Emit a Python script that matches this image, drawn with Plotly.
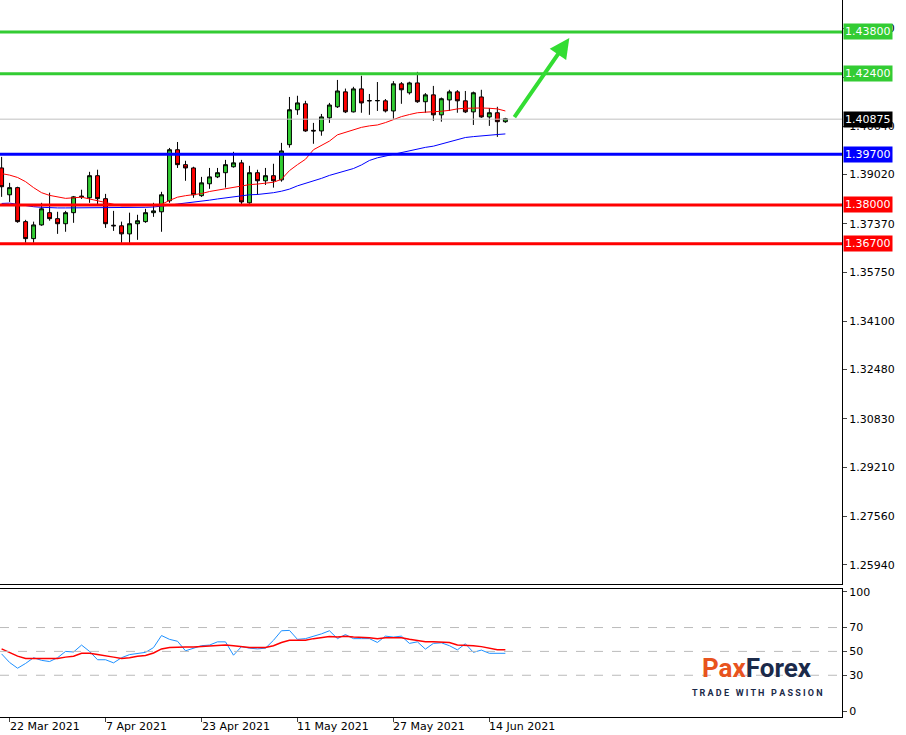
import pandas as pd
import plotly.graph_objects as go

### Data -------------------------------------------------------

dates = pd.bdate_range("2021-03-19", periods=64)

open_ = [1.3924, 1.3834, 1.3858, 1.3744, 1.3687, 1.3733, 1.3774, 1.3754, 1.3737, 1.3774,
         1.3827, 1.3824, 1.3898, 1.3821, 1.3732, 1.3730, 1.3703, 1.3737, 1.3744, 1.3774,
         1.3777, 1.3814, 1.3985, 1.3935, 1.3924, 1.3831, 1.3871, 1.3894, 1.3908, 1.3928,
         1.3941, 1.3807, 1.3908, 1.3881, 1.3898, 1.3884, 1.4002, 1.4119, 1.4139, 1.4050,
         1.4048, 1.4092, 1.4129, 1.4179, 1.4112, 1.4189, 1.4150, 1.4149, 1.4149, 1.4115,
         1.4206, 1.4176, 1.4209, 1.4146, 1.4169, 1.4102, 1.4152, 1.4179, 1.4149, 1.4112,
         1.4162, 1.4095, 1.4109, 1.4079]
high = [1.3961, 1.3874, 1.3861, 1.3750, 1.3744, 1.3807, 1.3841, 1.3777, 1.3780, 1.3830,
        1.3851, 1.3911, 1.3918, 1.3837, 1.3780, 1.3744, 1.3774, 1.3767, 1.3787, 1.3807,
        1.3844, 1.3991, 1.4011, 1.3948, 1.3928, 1.3894, 1.3924, 1.3924, 1.3951, 1.3978,
        1.3951, 1.3931, 1.3918, 1.3924, 1.3938, 1.4008, 1.4162, 1.4166, 1.4149, 1.4075,
        1.4105, 1.4142, 1.4219, 1.4190, 1.4196, 1.4233, 1.4172, 1.4212, 1.4155, 1.4215,
        1.4212, 1.4213, 1.4246, 1.4175, 1.4199, 1.4160, 1.4186, 1.4185, 1.4182, 1.4180,
        1.4186, 1.4125, 1.4129, 1.4092]
low = [1.3827, 1.3810, 1.3740, 1.3673, 1.3673, 1.3730, 1.3747, 1.3703, 1.3710, 1.3740,
       1.3820, 1.3807, 1.3800, 1.3723, 1.3713, 1.3673, 1.3673, 1.3683, 1.3740, 1.3760,
       1.3710, 1.3807, 1.3924, 1.3881, 1.3824, 1.3827, 1.3854, 1.3890, 1.3858, 1.3925,
       1.3800, 1.3804, 1.3834, 1.3867, 1.3858, 1.3878, 1.3992, 1.4102, 1.4045, 1.4005,
       1.4032, 1.4075, 1.4125, 1.4108, 1.4110, 1.4109, 1.4102, 1.4115, 1.4110, 1.4089,
       1.4139, 1.4170, 1.4142, 1.4109, 1.4082, 1.4079, 1.4115, 1.4109, 1.4108, 1.4068,
       1.4092, 1.4065, 1.4028, 1.4075]
close = [1.3861, 1.3858, 1.3744, 1.3687, 1.3733, 1.3787, 1.3754, 1.3737, 1.3774, 1.3827,
         1.3829, 1.3898, 1.3821, 1.3737, 1.3730, 1.3703, 1.3737, 1.3747, 1.3774, 1.3780,
         1.3834, 1.3985, 1.3935, 1.3924, 1.3834, 1.3874, 1.3894, 1.3908, 1.3935, 1.3941,
         1.3810, 1.3908, 1.3881, 1.3898, 1.3881, 1.3981, 1.4119, 1.4142, 1.4048, 1.4048,
         1.4095, 1.4135, 1.4182, 1.4112, 1.4189, 1.4142, 1.4149, 1.4150, 1.4115, 1.4206,
         1.4186, 1.4209, 1.4146, 1.4169, 1.4102, 1.4156, 1.4179, 1.4149, 1.4112, 1.4176,
         1.4095, 1.4109, 1.4079, 1.4089]

ma_red = [1.3905, 1.3900, 1.3892, 1.3878, 1.3858, 1.3841, 1.3832, 1.3826, 1.3822, 1.3824,
          1.3826, 1.3820, 1.3815, 1.3808, 1.3802, 1.3797, 1.3797, 1.3797, 1.3799, 1.3800,
          1.3802, 1.3815, 1.3826, 1.3831, 1.3834, 1.3838, 1.3845, 1.3850, 1.3854, 1.3858,
          1.3864, 1.3868, 1.3870, 1.3872, 1.3876, 1.3886, 1.3915, 1.3935, 1.3953, 1.3985,
          1.4000, 1.4014, 1.4035, 1.4043, 1.4051, 1.4060, 1.4065, 1.4068, 1.4076, 1.4087,
          1.4096, 1.4103, 1.4109, 1.4111, 1.4112, 1.4114, 1.4117, 1.4122, 1.4124, 1.4125,
          1.4125, 1.4124, 1.4122, 1.4115]
ma_blue = [1.3805, 1.3806, 1.3802, 1.3797, 1.3794, 1.3792, 1.3790, 1.3790, 1.3790, 1.3790,
           1.3790, 1.3790, 1.3790, 1.3790, 1.3790, 1.3790, 1.3790, 1.3791, 1.3792, 1.3793,
           1.3795, 1.3799, 1.3803, 1.3806, 1.3808, 1.3812, 1.3816, 1.3820, 1.3824, 1.3827,
           1.3831, 1.3834, 1.3835, 1.3837, 1.3841, 1.3846, 1.3853, 1.3864, 1.3872, 1.3880,
           1.3889, 1.3899, 1.3907, 1.3913, 1.3922, 1.3934, 1.3949, 1.3958, 1.3964, 1.3968,
           1.3974, 1.3982, 1.3988, 1.3993, 1.3997, 1.4004, 1.4012, 1.4019, 1.4026, 1.4029,
           1.4032, 1.4034, 1.4036, 1.4038]

rsi = [47.9, 40.7, 35.9, 39.9, 44.7, 42.5, 41.5, 44.7, 50.0, 49.5,
       55.3, 50.0, 43.0, 43.0, 40.4, 44.7, 47.3, 48.4, 49.2, 53.2,
       63.3, 60.1, 58.5, 50.5, 52.7, 54.8, 55.3, 58.0, 58.0, 46.8,
       54.0, 52.7, 52.1, 52.7, 59.3, 67.3, 67.6, 60.1, 60.7, 62.5,
       64.7, 67.3, 60.7, 64.1, 60.7, 60.7, 60.7, 57.5, 62.8, 62.0,
       62.8, 56.7, 58.0, 51.9, 56.7, 57.2, 54.8, 51.3, 56.4, 49.2,
       51.1, 48.4, 48.4, 48.4]
rsi_ma = [52.1, 48.7, 46.0, 44.1, 44.1, 44.1, 44.1, 44.1, 45.2, 46.0,
          48.4, 48.4, 47.3, 46.0, 45.2, 44.1, 44.7, 46.0, 46.5, 48.7,
          52.1, 53.2, 53.7, 53.7, 53.7, 54.0, 54.5, 54.8, 55.3, 54.8,
          54.0, 53.2, 53.2, 53.2, 54.8, 57.5, 59.3, 59.3, 59.3, 60.7,
          61.5, 62.5, 62.0, 62.8, 62.0, 62.0, 61.5, 60.7, 61.5, 61.5,
          61.5, 60.1, 59.3, 58.0, 58.0, 58.0, 57.5, 55.3, 55.3, 54.8,
          54.0, 52.7, 51.3, 51.3]

levels = [1.43800, 1.42400, 1.39700, 1.38000, 1.36700]
level_colors = ["#33CC33", "#33CC33", "#0000FF", "#FF0000", "#FF0000"]
last_price = 1.40875

price_ticks = [1.4391, 1.4227, 1.4064, 1.3902, 1.3737, 1.3575, 1.3410,
               1.3248, 1.3083, 1.2921, 1.2756, 1.2594]
price_ticktext = ["1.43910", "", "1.40640", "1.39020", "1.37370", "1.35750", "1.34100",
                  "1.32480", "1.30830", "1.29210", "1.27560", "1.25940"]
date_tick_idx = [1, 13, 25, 37, 49, 61]

arrow_from = (64.0, 1.4089)
arrow_to = (71.0, 1.4360)

### Figure -----------------------------------------------------

x = list(range(len(close)))
font = dict(family="DejaVu Sans", size=11, color="black")
dom_right = 842 / 906

fig = go.Figure()

fig.add_trace(go.Candlestick(
    x=x, open=open_, high=high, low=low, close=close,
    increasing=dict(fillcolor="#32CD32", line=dict(color="black", width=1)),
    decreasing=dict(fillcolor="#FF0000", line=dict(color="black", width=1)),
    whiskerwidth=0, showlegend=False, xaxis="x", yaxis="y"))

fig.add_trace(go.Scatter(x=x, y=ma_red, mode="lines", line=dict(color="red", width=1),
                         showlegend=False, xaxis="x", yaxis="y"))
fig.add_trace(go.Scatter(x=x, y=ma_blue, mode="lines", line=dict(color="blue", width=1),
                         showlegend=False, xaxis="x", yaxis="y"))

fig.add_trace(go.Scatter(x=x, y=rsi, mode="lines", line=dict(color="#1E90FF", width=1),
                         showlegend=False, xaxis="x2", yaxis="y2"))
fig.add_trace(go.Scatter(x=x, y=rsi_ma, mode="lines", line=dict(color="red", width=1.5),
                         showlegend=False, xaxis="x2", yaxis="y2"))

# horizontal levels + labels
fig.add_shape(type="line", xref="paper", yref="y", x0=0, x1=dom_right, y0=last_price,
              y1=last_price, line=dict(color="#C0C0C0", width=1))
for lv, c in zip(levels, level_colors):
    fig.add_shape(type="line", xref="paper", yref="y", x0=0, x1=dom_right, y0=lv, y1=lv,
                  line=dict(color=c, width=3))
    fig.add_annotation(xref="paper", yref="y", x=dom_right + 0.001, y=lv, xanchor="left",
                       text="%.5f" % lv, showarrow=False, bgcolor=c, borderpad=1,
                       font=dict(family="DejaVu Sans", size=11, color="white"))
fig.add_annotation(xref="paper", yref="y", x=dom_right + 0.001, y=last_price, xanchor="left",
                   text="%.5f" % last_price, showarrow=False, bgcolor="black", borderpad=1,
                   font=dict(family="DejaVu Sans", size=11, color="white"))

# green arrow
fig.add_annotation(x=arrow_to[0], y=arrow_to[1], ax=arrow_from[0], ay=arrow_from[1],
                   xref="x", yref="y", axref="x", ayref="y", text="", showarrow=True,
                   arrowhead=2, arrowsize=1, arrowwidth=4, arrowcolor="#33DD33")

# dashed RSI levels
for lv in [30, 50, 70]:
    fig.add_shape(type="line", xref="paper", yref="y2", x0=0, x1=dom_right, y0=lv, y1=lv,
                  line=dict(color="#BBBBBB", width=1, dash="dash"))

# date labels, left aligned at the tick like MT4
for i in date_tick_idx:
    fig.add_annotation(xref="x2", yref="paper", x=i, y=0, xanchor="left", yanchor="top",
                       yshift=-1, xshift=-2, text=dates[i].strftime("%-d %b %Y"),
                       showarrow=False, font=font)

# logo
fig.add_annotation(xref="paper", yref="paper", x=757 / 906, y=0.068, xanchor="center",
                   yanchor="middle", showarrow=False,
                   text="<b><span style='color:#E8531E'>Pax</span><span style='color:#1B2A4A'>Forex</span></b>",
                   font=dict(family="Roboto", size=26))
fig.add_annotation(xref="paper", yref="paper", x=757 / 906, y=0.033, xanchor="center",
                   yanchor="middle", showarrow=False,
                   text="<b>T R A D E   W I T H   P A S S I O N</b>",
                   font=dict(family="Roboto", size=9, color="#1B2A4A"))

fig.update_layout(
    width=906, height=735, margin=dict(l=0, r=0, t=0, b=18, pad=0, autoexpand=False),
    plot_bgcolor="white", paper_bgcolor="white", font=font, showlegend=False,
    xaxis=dict(domain=[0, dom_right], range=[-0.2, 105.1], showgrid=False, zeroline=False,
               showticklabels=False, rangeslider=dict(visible=False), anchor="y",
               showline=True, linecolor="black", mirror=True),
    yaxis=dict(domain=[0.185, 1], range=[1.2528, 1.4487], side="right", showgrid=False,
               zeroline=False, tickvals=price_ticks, ticktext=price_ticktext,
               ticks="outside", ticklen=4, showline=True, linecolor="black", anchor="x"),
    xaxis2=dict(domain=[0, dom_right], range=[-0.2, 105.1], showgrid=False, zeroline=False,
                tickvals=date_tick_idx, showticklabels=False,
                ticks="outside", ticklen=4, showline=True, linecolor="black", mirror=True,
                anchor="y2"),
    yaxis2=dict(domain=[0, 0.178], range=[-5, 102], side="right", showgrid=False,
                zeroline=False, tickvals=[0, 30, 50, 70, 100], ticks="outside", ticklen=4,
                showline=True, linecolor="black", anchor="x2"),
)

fig.write_html("out.html", config={"displayModeBar": False},
               post_script="document.body.style.margin='0';")
